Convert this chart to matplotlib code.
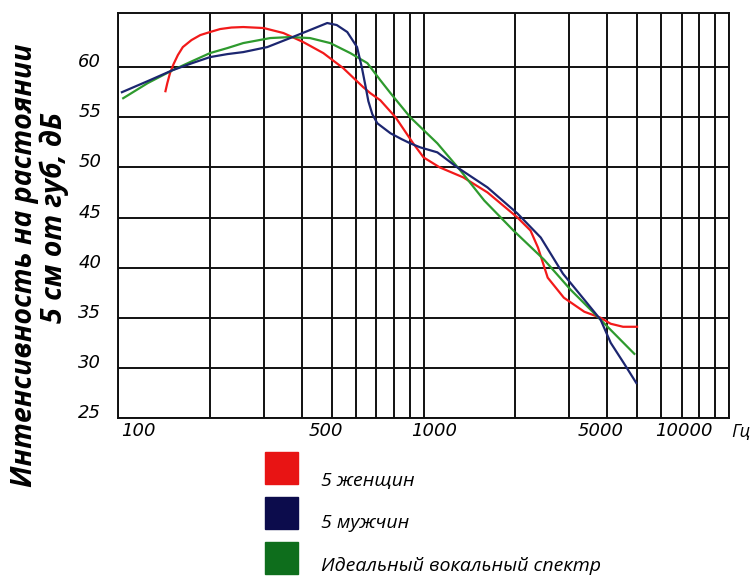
import numpy as np
import matplotlib
matplotlib.use("Agg")
import matplotlib.pyplot as plt
import matplotlib.transforms as mtransforms
from matplotlib.patches import Rectangle

# frequencies (Hz) and levels (dB)
women_f = [143, 145, 148, 152, 157, 163, 174, 186, 200, 216, 235, 257, 300, 348, 404, 470,
           546, 635, 670, 722, 810, 870, 925, 1000, 1130, 1350, 1620, 2030, 2240, 2370,
           2550, 2880, 3360, 3800, 4100, 4500, 5000]
women_db = [57.6, 58.4, 59.4, 60.3, 61.2, 62.0, 62.7, 63.2, 63.5, 63.8, 63.95, 64.0, 63.9,
            63.4, 62.5, 61.4, 59.9, 58.0, 57.4, 56.7, 55.0, 53.6, 52.4, 51.0, 50.0, 49.0,
            47.5, 45.0, 43.7, 42.0, 39.0, 37.0, 35.6, 35.0, 34.4, 34.1, 34.1]

men_f = [103, 125, 151, 175, 200, 228, 257, 308, 366, 425, 484, 520, 563, 606, 628, 645,
         660, 680, 706, 780, 850, 905, 975, 1110, 1290, 1620, 2030, 2420, 2860, 3360, 3800,
         4100, 4520, 4970]
men_db = [57.5, 58.6, 59.7, 60.4, 61.0, 61.3, 61.5, 62.0, 62.9, 63.7, 64.4, 64.2, 63.5,
          62.0, 60.0, 58.2, 56.6, 55.3, 54.4, 53.4, 52.8, 52.4, 52.0, 51.5, 50.0, 48.0,
          45.4, 43.0, 39.4, 36.8, 34.8, 32.5, 30.5, 28.5]

ideal_f = [104, 125, 151, 175, 200, 228, 257, 315, 366, 425, 495, 576, 655, 722, 780, 905,
           1110, 1320, 1580, 1970, 2480, 3030, 3800, 4900]
ideal_db = [56.9, 58.4, 59.7, 60.6, 61.4, 61.9, 62.4, 62.9, 63.0, 62.9, 62.4, 61.4, 60.4,
            58.7, 57.4, 55.0, 52.4, 49.7, 46.7, 43.7, 40.8, 37.8, 34.8, 31.4]

y_ticks = [25, 30, 35, 40, 45, 50, 55, 60]
x_ticks = [100, 500, 1000, 5000, 10000]
x_tick_labels = ["100", "500", "1000", "5000", "10000"]
x_label_shift = [20, -6, 11, -36, -45]  # the printed labels sit off their gridlines

legend_labels = ["5 женщин", "5 мужчин", "Идеальный вокальный спектр"]
line_colors = ["#f21a1a", "#1c2670", "#2e9a2e"]
box_colors = ["#e81414", "#0c0c4c", "#0e6e1c"]

plt.rcParams['font.family'] = ['Open Sans', 'DejaVu Sans']

fig = plt.figure(figsize=(7.52, 5.78), dpi=100)
ax = fig.add_axes([118 / 752, 160 / 578, 611 / 752, 405 / 578])

ax.plot(women_f, women_db, color=line_colors[0], lw=1.6, zorder=3)
ax.plot(men_f, men_db, color=line_colors[1], lw=1.6, zorder=4)
ax.plot(ideal_f, ideal_db, color=line_colors[2], lw=1.6, zorder=3)

ax.set_xscale('log')
ax.set_xlim(100, 10000)
ax.set_ylim(25, 65.4)

ax.set_xticks(x_ticks)
ax.set_xticklabels(x_tick_labels)
ax.set_xticks([f for d in (100, 1000) for f in np.arange(2, 10) * d], minor=True)
ax.xaxis.set_minor_formatter(matplotlib.ticker.NullFormatter())
ax.set_yticks(y_ticks)
ax.set_yticklabels([str(v) for v in y_ticks])

ax.grid(True, which='both', axis='x', color='#111111', lw=1.4)
ax.grid(True, which='major', axis='y', color='#111111', lw=1.4)
ax.tick_params(which='both', length=0)
ax.tick_params(axis='x', pad=3, labelsize=13)
ax.tick_params(axis='y', pad=12, labelsize=13)
for s in ax.spines.values():
    s.set_color('#111111')
    s.set_linewidth(1.4)

for lab, dx in zip(ax.get_xticklabels(), x_label_shift):
    lab.set_fontstyle('italic')
    lab.set_family('DejaVu Sans')
    lab.set_transform(lab.get_transform() +
                      mtransforms.ScaledTranslation(dx / 100, 0, fig.dpi_scale_trans))
for lab in ax.get_yticklabels():
    lab.set_fontstyle('italic')
    lab.set_family('DejaVu Sans')
    lab.set_transform(lab.get_transform() +
                      mtransforms.ScaledTranslation(0, 7 / 100, fig.dpi_scale_trans))

fig.text(741 / 752, 1 - 432 / 578, "Гц", fontsize=13, fontstyle='italic',
         ha='center', va='center')

fig.text(25 / 752, 1 - 265 / 578, "Интенсивность на растоянии", rotation=90,
         fontsize=20.5, fontweight='bold', fontstyle='italic', ha='center', va='center')
fig.text(54 / 752, 1 - 218 / 578, "5 см от губ, дБ", rotation=90,
         fontsize=20.5, fontweight='bold', fontstyle='italic', ha='center', va='center')

# legend: coloured squares with captions a little below them
box_top = [452, 497, 542]
text_base = [486, 528, 571]
for top, base, col, lab in zip(box_top, text_base, box_colors, legend_labels):
    fig.patches.append(Rectangle((265 / 752, 1 - (top + 32) / 578), 33 / 752, 32 / 578,
                                 transform=fig.transFigure, color=col, zorder=1))
    fig.text(321 / 752, 1 - base / 578, lab, fontsize=14, fontstyle='italic',
             ha='left', va='baseline')

fig.savefig("out.png", dpi=100)
